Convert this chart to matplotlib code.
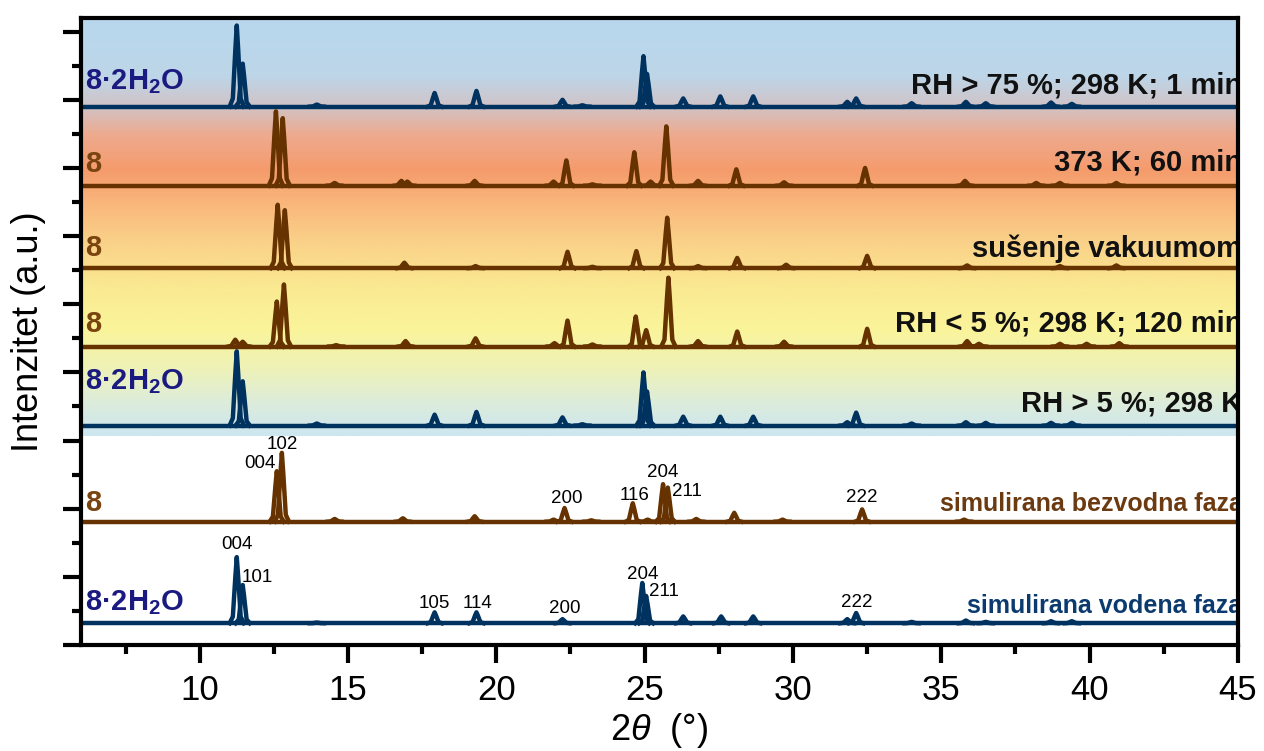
import matplotlib
matplotlib.use("Agg")
import matplotlib.pyplot as plt
import numpy as np
from matplotlib.colors import LinearSegmentedColormap
from matplotlib.ticker import MultipleLocator

plt.rcParams['font.family'] = ['Liberation Sans', 'DejaVu Sans']
plt.rcParams['mathtext.fontset'] = 'custom'
plt.rcParams['mathtext.rm'] = 'Liberation Sans'
plt.rcParams['mathtext.it'] = 'Liberation Sans:italic'
plt.rcParams['mathtext.bf'] = 'Liberation Sans:bold'

# 数据: 峰位 (2θ) 和峰高 (a.u.), 从上到下
pos_rh75 = [11.25, 11.45, 13.95, 17.92, 19.33, 22.23, 22.9, 24.96, 25.08, 26.3, 27.55, 28.66,
            31.83, 32.13, 34.0, 35.83, 36.5, 38.7, 39.4]
h_rh75 = [1.19, 0.63, 0.03, 0.20, 0.23, 0.10, 0.02, 0.74, 0.48, 0.12, 0.15, 0.15,
          0.07, 0.12, 0.05, 0.07, 0.05, 0.06, 0.04]

pos_373 = [12.57, 12.8, 14.55, 16.8, 17.0, 19.27, 21.93, 22.36, 23.24, 24.65, 25.2, 25.73,
           26.8, 28.09, 29.7, 32.43, 35.8, 38.2, 39.0, 40.9]
h_373 = [1.09, 0.99, 0.04, 0.07, 0.06, 0.07, 0.06, 0.37, 0.02, 0.49, 0.06, 0.87,
         0.07, 0.24, 0.05, 0.26, 0.07, 0.04, 0.04, 0.04]

pos_vak = [12.63, 12.87, 16.9, 19.3, 22.4, 23.24, 24.72, 25.76, 26.8, 28.12, 29.77, 32.5,
           35.87, 39.0, 40.9]
h_vak = [0.93, 0.85, 0.08, 0.03, 0.24, 0.02, 0.25, 0.74, 0.03, 0.15, 0.05, 0.18,
         0.04, 0.03, 0.04]

pos_rh5low = [11.2, 11.45, 12.6, 12.84, 14.6, 16.94, 19.3, 21.96, 22.4, 23.24, 24.7, 25.05,
              25.8, 26.8, 28.12, 29.7, 32.5, 35.87, 36.27, 39.0, 39.9, 41.0]
h_rh5low = [0.10, 0.07, 0.66, 0.91, 0.02, 0.08, 0.12, 0.05, 0.38, 0.03, 0.44, 0.24,
            1.01, 0.08, 0.22, 0.07, 0.26, 0.08, 0.04, 0.04, 0.04, 0.05]

pos_rh5 = [11.25, 11.45, 13.95, 17.92, 19.33, 22.23, 22.9, 24.96, 25.08, 26.3, 27.55, 28.66,
           31.83, 32.13, 34.0, 35.83, 36.5, 38.7, 39.4]
h_rh5 = [1.09, 0.65, 0.03, 0.16, 0.20, 0.12, 0.02, 0.78, 0.50, 0.13, 0.13, 0.13,
         0.05, 0.19, 0.03, 0.05, 0.04, 0.04, 0.04]

pos_sim_anh = [12.6, 12.77, 14.55, 16.85, 19.27, 21.93, 22.3, 23.2, 24.6, 25.1, 25.62, 25.78,
               26.74, 28.02, 29.65, 32.33, 35.77]
h_sim_anh = [0.74, 1.01, 0.04, 0.05, 0.08, 0.03, 0.20, 0.02, 0.27, 0.03, 0.55, 0.50,
             0.04, 0.13, 0.03, 0.18, 0.03]

pos_sim_hyd = [11.25, 11.45, 13.95, 17.92, 19.33, 22.23, 24.92, 25.05, 26.3, 27.58, 28.66,
               31.83, 32.13, 34.0, 35.83, 36.5, 38.7, 39.4]
h_sim_hyd = [0.97, 0.56, 0.01, 0.16, 0.16, 0.06, 0.59, 0.40, 0.10, 0.10, 0.10,
             0.06, 0.15, 0.02, 0.04, 0.02, 0.03, 0.03]

offsets = [7.90, 6.74, 5.53, 4.38, 3.22, 1.81, 0.32]
left_labels = ['8·2H$_\\mathbf{2}$O', '8', '8', '8', '8·2H$_\\mathbf{2}$O', '8', '8·2H$_\\mathbf{2}$O']
right_labels = ['RH > 75 %; 298 K; 1 min', '373 K; 60 min', 'sušenje vakuumom',
                'RH < 5 %; 298 K; 120 min', 'RH > 5 %; 298 K',
                'simulirana bezvodna faza', 'simulirana vodena faza']

hkl_anh = ['004', '102', '200', '116', '204', '211', '222']
hkl_hyd = ['004', '101', '105', '114', '200', '204', '211', '222']

# 样式
blue = '#00325f'
brown = '#663300'
label_blue = '#1a1a80'
label_brown = '#7a4410'
traces = [(pos_rh75, h_rh75, blue), (pos_373, h_373, brown), (pos_vak, h_vak, brown),
          (pos_rh5low, h_rh5low, brown), (pos_rh5, h_rh5, blue),
          (pos_sim_anh, h_sim_anh, brown), (pos_sim_hyd, h_sim_hyd, blue)]
left_colors = [label_blue, label_brown, label_brown, label_brown, label_blue, label_brown, label_blue]
left_y = [8.16, 6.94, 5.71, 4.59, 3.75, 1.97, 0.51]
right_y = [8.09, 6.96, 5.69, 4.60, 3.43, 1.97, 0.47]
right_colors = ['#111111'] * 5 + ['#6b3a10', '#0a3a6e']
right_sizes = [21] * 5 + [18, 18]

hkl_anh_xy = [(12.03, 2.60), (12.77, 2.88), (22.36, 2.09), (24.65, 2.13),
              (25.6, 2.47), (26.44, 2.18), (32.33, 2.10)]
hkl_hyd_xy = [(11.25, 1.41), (11.95, 0.93), (17.92, 0.54), (19.37, 0.54),
              (22.3, 0.47), (24.92, 0.97), (25.65, 0.72), (32.16, 0.56)]

# 峰形模板 (半宽的倍数, 相对高度)
shape_dx = np.array([-1.0, -0.55, -0.2, 0.0, 0.2, 0.55, 1.0])
shape_dy = np.array([0.0, 0.1, 0.7, 1.0, 0.7, 0.1, 0.0])
half_w = 0.24

fig = plt.figure(figsize=(12.64, 7.51), dpi=100)
ax = fig.add_axes([0.0641, 0.1411, 0.9153, 0.8349])
ax.set_xlim(6, 45)
ax.set_ylim(0, 9.2)

# 背景渐变 (从下到上)
bg_stops = [0.0, 0.074, 0.158, 0.254, 0.350, 0.469, 0.565, 0.637, 0.721, 0.793, 0.865, 1.0]
bg_cols = ['#cde6f0', '#dcecdc', '#eef2b8', '#faf49a', '#faea92', '#fad088',
           '#f9b47a', '#f59b6c', '#eeaa8e', '#d0c4c8', '#bdd6e8', '#b8d8ee']
cmap = LinearSegmentedColormap.from_list('bg', list(zip(bg_stops, bg_cols)))
ax.imshow(np.linspace(0, 1, 300).reshape(-1, 1), cmap=cmap, aspect='auto',
          origin='lower', extent=[6, 45, 3.07, 9.2], zorder=0)

for (pos, hts, col), base in zip(traces, offsets):
    ax.plot([6, 45], [base, base], color=col, lw=3.2, solid_capstyle='butt', zorder=3)
    for p, h in zip(pos, hts):
        ax.plot(p + shape_dx * half_w, base + shape_dy * h, color=col, lw=3.2,
                solid_joinstyle='round', zorder=3)

for lab, y, c in zip(left_labels, left_y, left_colors):
    ax.text(6.15, y, lab, color=c, fontsize=21, fontweight='bold', va='baseline', zorder=4)

for lab, y, c, s in zip(right_labels, right_y, right_colors, right_sizes):
    ax.text(45.15, y, lab, color=c, fontsize=s, fontweight='bold', ha='right',
            va='baseline', clip_on=True, zorder=4)

for lab, (x, y) in zip(hkl_anh + hkl_hyd, hkl_anh_xy + hkl_hyd_xy):
    ax.text(x, y, lab, fontsize=13.5, ha='center', va='baseline', zorder=4)

ax.xaxis.set_major_locator(MultipleLocator(5))
ax.xaxis.set_minor_locator(MultipleLocator(2.5))
ax.yaxis.set_major_locator(MultipleLocator(1))
ax.yaxis.set_minor_locator(MultipleLocator(0.5))
ax.set_yticklabels([])
ax.tick_params(which='major', direction='out', length=13, width=3, labelsize=25, pad=8)
ax.tick_params(which='minor', direction='out', length=6.5, width=3)
for sp in ax.spines.values():
    sp.set_linewidth(3)
    sp.set_zorder(5)

ax.set_xlabel('2$\\theta$  (°)', fontsize=26, labelpad=3)
ax.set_ylabel('Intenzitet (a.u.)', fontsize=26, labelpad=4)

plt.savefig('out.png', dpi=100)
